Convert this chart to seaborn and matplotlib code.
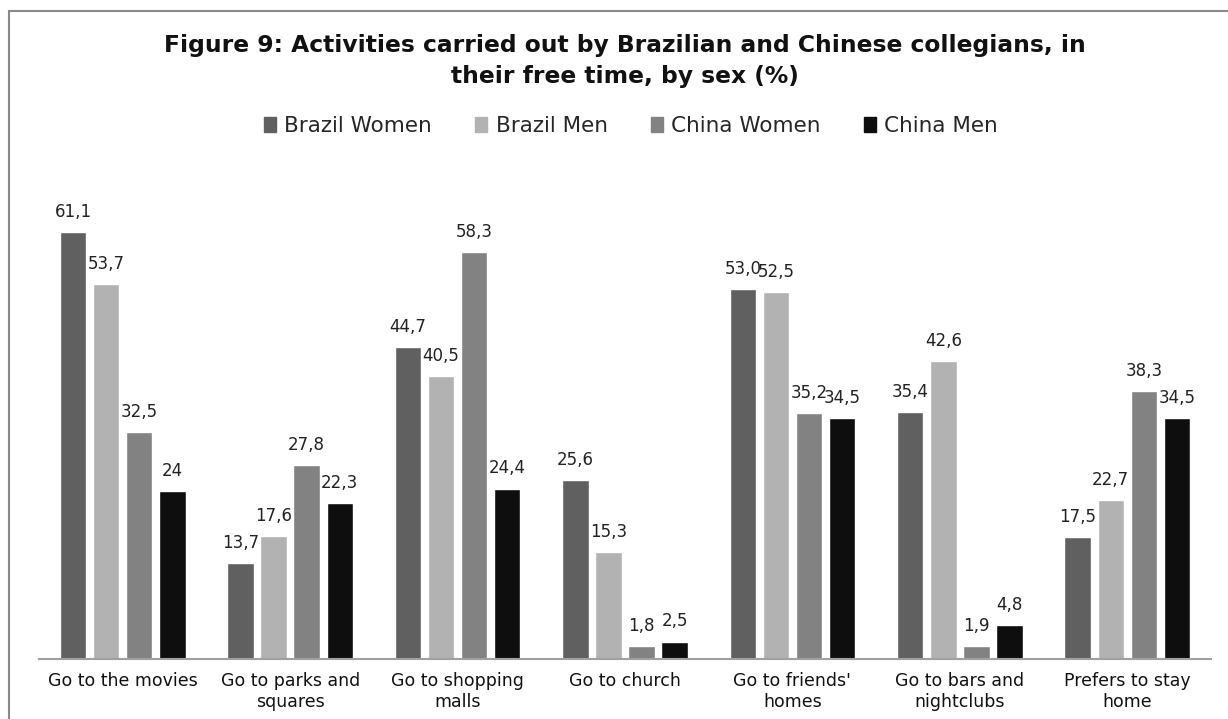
import matplotlib
matplotlib.use("Agg")
import matplotlib.pyplot as plt
import seaborn as sns
import pandas as pd
from matplotlib.patches import Rectangle

categories = ["Go to the movies", "Go to parks and\nsquares", "Go to shopping\nmalls",
              "Go to church", "Go to friends'\nhomes", "Go to bars and\nnightclubs",
              "Prefers to stay\nhome"]
series = ["Brazil Women", "Brazil Men", "China Women", "China Men"]
brazil_women = [61.1, 13.7, 44.7, 25.6, 53.0, 35.4, 17.5]
brazil_men = [53.7, 17.6, 40.5, 15.3, 52.5, 42.6, 22.7]
china_women = [32.5, 27.8, 58.3, 1.8, 35.2, 1.9, 38.3]
china_men = [24.0, 22.3, 24.4, 2.5, 34.5, 4.8, 34.5]
value_text = [
    ["61,1", "13,7", "44,7", "25,6", "53,0", "35,4", "17,5"],
    ["53,7", "17,6", "40,5", "15,3", "52,5", "42,6", "22,7"],
    ["32,5", "27,8", "58,3", "1,8", "35,2", "1,9", "38,3"],
    ["24", "22,3", "24,4", "2,5", "34,5", "4,8", "34,5"],
]
colors = ["#606060", "#b2b2b2", "#828282", "#0e0e0e"]

rows = []
for s, vals in zip(series, [brazil_women, brazil_men, china_women, china_men]):
    for c, v in zip(categories, vals):
        rows.append({"Activity": c, "Group": s, "Value": v})
df = pd.DataFrame(rows)

sns.set_theme(style="white")
plt.rcParams["font.family"] = ["DejaVu Sans"]

W, H = 1228, 719
fig = plt.figure(figsize=(W / 100, H / 100), dpi=100)
ax = fig.add_axes([39 / W, 1 - 659 / H, (1211 - 39) / W, (659 - 170) / H])

sns.barplot(data=df, x="Activity", y="Value", hue="Group", order=categories,
            hue_order=series, palette=colors, width=0.79, gap=0.2, saturation=1,
            ax=ax, legend=False)

for bars, labels in zip(ax.containers, value_text):
    for bar, lab in zip(bars, labels):
        ax.annotate(lab, (bar.get_x() + bar.get_width() / 2, bar.get_height()),
                    xytext=(0, 8), textcoords="offset points", ha="center",
                    va="bottom", fontsize=12, color="#222222")

ax.set_ylim(0, 70)
ax.set_xlim(-0.5, len(categories) - 0.5)
ax.set_xlabel("")
ax.set_ylabel("")
ax.set_yticks([])
for side in ["top", "right", "left"]:
    ax.spines[side].set_visible(False)
ax.spines["bottom"].set_color("#a0a0a0")
ax.spines["bottom"].set_linewidth(1.5)
ax.tick_params(axis="x", length=0, pad=9, labelsize=12.5, labelcolor="#111111")
for lab in ax.get_xticklabels():
    lab.set_linespacing(1.25)

fig.text(625 / W, 1 - 61 / H,
         "Figure 9: Activities carried out by Brazilian and Chinese collegians, in\ntheir free time, by sex (%)",
         ha="center", va="center", fontsize=16.8, fontweight="bold",
         linespacing=1.45, color="#111111")

handles = [Rectangle((0, 0), 1, 1, color=c) for c in colors]
fig.legend(handles, series, loc="center", bbox_to_anchor=(631 / W, 1 - 126 / H),
           ncol=4, frameon=False, fontsize=15.5, handlelength=0.55, handleheight=0.65,
           handletextpad=0.4, columnspacing=2.0)

fig.patches.append(Rectangle((9 / W, -0.1), 1.1, 1.1 - 11 / H,
                             transform=fig.transFigure, fill=False,
                             edgecolor="#8a8a8a", linewidth=1.5))

fig.savefig("out.png", dpi=100, facecolor="white")
